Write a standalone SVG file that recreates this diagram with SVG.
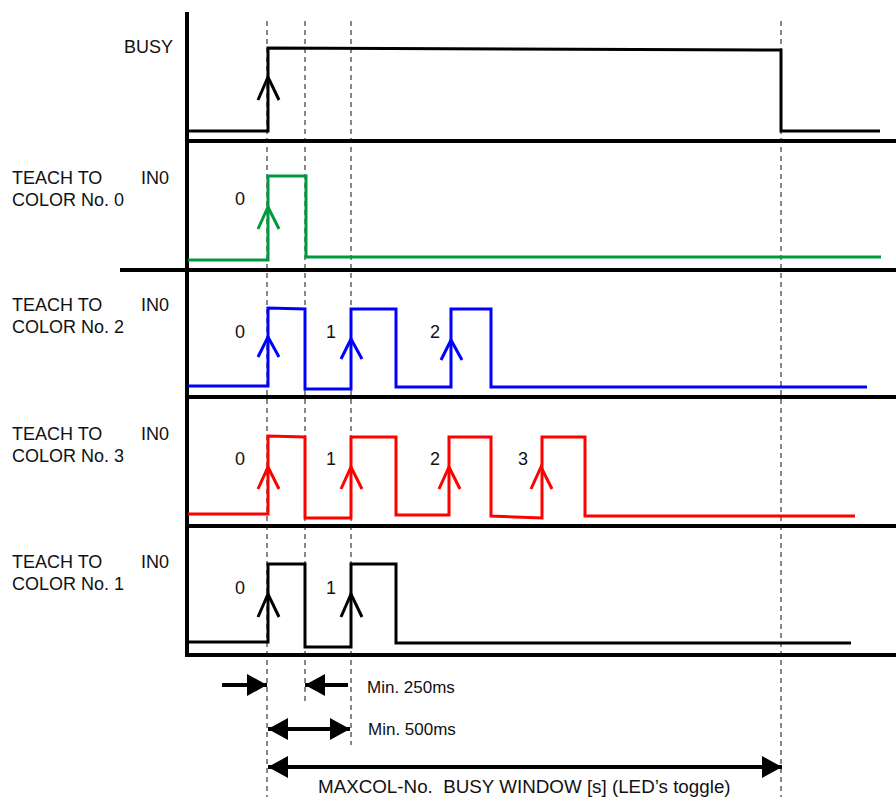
<svg xmlns="http://www.w3.org/2000/svg" width="896" height="797" viewBox="0 0 896 797">
<style>
text{font-family:"Liberation Sans",Arial,sans-serif;font-size:18px;fill:#111}
.sm{font-size:17px}
.big{font-size:18.8px;white-space:pre}
.sep{stroke:#000;stroke-width:4;fill:none}
.dash{stroke:#111;stroke-width:1;stroke-dasharray:5,4;fill:none}
.sig{fill:none;stroke-width:3;stroke-linejoin:miter}
.arr{fill:none;stroke-width:3;stroke-linecap:butt}
.k{stroke:#000}.g{stroke:#009a3e}.b{stroke:#0000ff}.r{stroke:#ff0000}
.dim{stroke:#000;stroke-width:4;fill:none}
</style>
<defs>
<marker id="ah" viewBox="0 0 20 22" refX="20" refY="11" markerWidth="20" markerHeight="22" markerUnits="userSpaceOnUse" orient="auto-start-reverse">
<path d="M0,0 L20,11 L0,22 Z" fill="#000"/>
</marker>
</defs>
<g id="frame">
<line class="sep" x1="187" y1="12" x2="187" y2="657"/>
<line class="sep" x1="187" y1="141" x2="896" y2="141"/>
<line class="sep" x1="120" y1="270" x2="896" y2="270"/>
<line class="sep" x1="187" y1="397" x2="896" y2="397"/>
<line class="sep" x1="187" y1="526" x2="896" y2="526"/>
<line class="sep" x1="187" y1="655" x2="896" y2="655"/>
</g>
<g id="guides">
<line class="dash" x1="267" y1="21" x2="267" y2="797"/>
<line class="dash" x1="305" y1="21" x2="305" y2="702"/>
<line class="dash" x1="351" y1="21" x2="351" y2="745"/>
<line class="dash" x1="781" y1="21" x2="781" y2="797"/>
</g>
<g id="busy">
<text x="124" y="53">BUSY</text>
<polyline class="sig k" points="188,131 268,131 268,48 781,50 781,131 880,131"/>
<polyline class="arr k" points="258,100 268,77 279,100"/>
</g>
<g id="color0">
<text x="12" y="184">TEACH TO</text>
<text x="141" y="184">IN0</text>
<text x="12" y="206">COLOR No. 0</text>
<polyline class="sig g" points="188,260 268,260 268,176 306,176 306,257 881,257"/>
<polyline class="arr g" points="258,229 268,207 279,229"/>
<text x="235" y="205">0</text>
</g>
<g id="color2">
<text x="12" y="311">TEACH TO</text>
<text x="141" y="311">IN0</text>
<text x="12" y="333">COLOR No. 2</text>
<polyline class="sig b" points="188,386 268,386 268,308 305,309 305,389 351,389 351,309 396,309 396,387 451,387 451,309 491,309 491,387 867,387"/>
<polyline class="arr b" points="258,357 268,337 279,357"/>
<polyline class="arr b" points="341,359 351,339 362,359"/>
<polyline class="arr b" points="441,360 451,340 462,360"/>
<text x="235" y="338">0</text>
<text x="326" y="338">1</text>
<text x="430" y="338">2</text>
</g>
<g id="color3">
<text x="12" y="440">TEACH TO</text>
<text x="141" y="440">IN0</text>
<text x="12" y="462">COLOR No. 3</text>
<polyline class="sig r" points="188,514 268,514 268,436 305,437 305,518 351,518 351,437 396,437 396,515 449,515 449,437 491,437 491,516 542,518 542,437 585,437 585,516 855,516"/>
<polyline class="arr r" points="258,489 268,467 279,489"/>
<polyline class="arr r" points="341,489 351,467 362,489"/>
<polyline class="arr r" points="439,489 449,467 460,489"/>
<polyline class="arr r" points="531,489 541,467 552,489"/>
<text x="235" y="465">0</text>
<text x="326" y="465">1</text>
<text x="430" y="465">2</text>
<text x="518" y="465">3</text>
</g>
<g id="color1">
<text x="12" y="568">TEACH TO</text>
<text x="141" y="568">IN0</text>
<text x="12" y="590">COLOR No. 1</text>
<polyline class="sig k" points="188,642 268,642 268,564 305,564 305,647 351,647 351,564 396,564 396,643 851,643"/>
<polyline class="arr k" points="258,617 268,594 279,617"/>
<polyline class="arr k" points="341,617 351,594 362,617"/>
<text x="235" y="594">0</text>
<text x="326" y="594">1</text>
</g>
<g id="connectors">
<line class="dim" x1="222" y1="685" x2="267" y2="685" marker-end="url(#ah)"/>
<line class="dim" x1="348" y1="685" x2="305" y2="685" marker-end="url(#ah)"/>
<line class="dim" x1="268" y1="729" x2="350" y2="729" marker-start="url(#ah)" marker-end="url(#ah)"/>
<line class="dim" x1="268" y1="767" x2="782" y2="767" marker-start="url(#ah)" marker-end="url(#ah)"/>
</g>
<g id="dim-labels">
<text class="sm" x="367" y="693">Min. 250ms</text>
<text class="sm" x="368" y="735">Min. 500ms</text>
<text class="big" x="318" y="793" xml:space="preserve">MAXCOL-No.  BUSY WINDOW [s] (LED’s toggle)</text>
</g>
</svg>
